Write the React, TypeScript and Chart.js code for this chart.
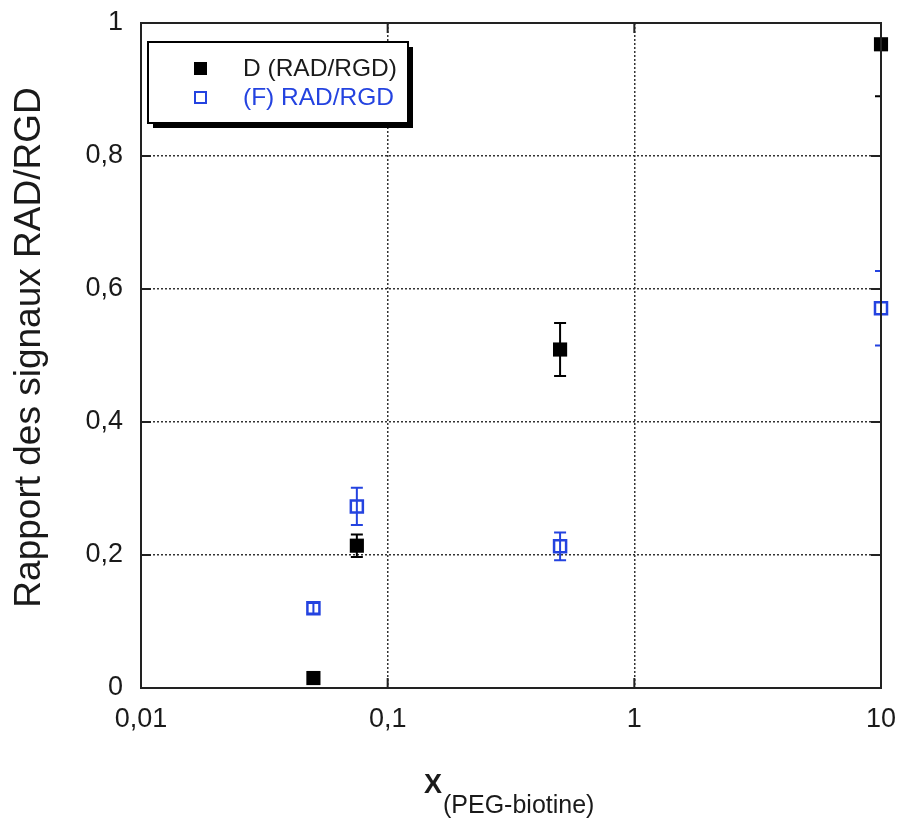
import { useEffect, useRef } from 'react';
import { Chart, registerables } from 'chart.js';

Chart.register(...registerables);

const xValues = [0.05, 0.075, 0.5, 10];
const seriesD = [0.015, 0.214, 0.509, 0.968];
const errD = [0, 0.017, 0.04, 0.078];
const seriesF = [0.12, 0.273, 0.213, 0.571];
const errF = [0.008, 0.028, 0.021, 0.056];
const xTicks = [0.01, 0.1, 1, 10];
const yTicks = [0, 0.2, 0.4, 0.6, 0.8, 1];
const labelD = 'D (RAD/RGD)';
const labelF = '(F) RAD/RGD';
const yTitle = 'Rapport des signaux RAD/RGD';
const xTitleMain = 'X';
const xTitleSub = '(PEG-biotine)';

const FONT = "'Liberation Sans', Arial, sans-serif";
const BLUE = '#2443e0';
const TEXT = '#1a1a1a';

const fmt = (v: number) => String(v).replace('.', ',');

const customPlugin = {
  id: 'customDraw',
  beforeDatasetsDraw(chart: any) {
    const { ctx, chartArea: a, scales } = chart;
    const x = scales.x;
    const y = scales.y;
    ctx.save();
    ctx.beginPath();
    ctx.rect(a.left, a.top, a.right - a.left, a.bottom - a.top);
    ctx.clip();
    const drawErr = (vals: number[], errs: number[], color: string) => {
      ctx.strokeStyle = color;
      ctx.lineWidth = 2;
      vals.forEach((v, i) => {
        const e = errs[i];
        if (!e) return;
        const px = x.getPixelForValue(xValues[i]);
        const top = y.getPixelForValue(v + e);
        const bot = y.getPixelForValue(v - e);
        ctx.beginPath();
        ctx.moveTo(px, top);
        ctx.lineTo(px, bot);
        ctx.moveTo(px - 6, top);
        ctx.lineTo(px + 6, top);
        ctx.moveTo(px - 6, bot);
        ctx.lineTo(px + 6, bot);
        ctx.stroke();
      });
    };
    drawErr(seriesD, errD, '#000');
    drawErr(seriesF, errF, BLUE);
    ctx.restore();
  },
  afterDraw(chart: any) {
    const { ctx, chartArea: a, scales } = chart;
    const x = scales.x;
    const y = scales.y;
    ctx.save();
    // inside ticks
    ctx.strokeStyle = '#222';
    ctx.lineWidth = 2;
    ctx.beginPath();
    yTicks.slice(1, -1).forEach((v) => {
      const py = y.getPixelForValue(v);
      ctx.moveTo(a.left, py);
      ctx.lineTo(a.left + 10, py);
      ctx.moveTo(a.right, py);
      ctx.lineTo(a.right - 10, py);
    });
    xTicks.slice(1, -1).forEach((v) => {
      const px = x.getPixelForValue(v);
      ctx.moveTo(px, a.bottom);
      ctx.lineTo(px, a.bottom - 10);
      ctx.moveTo(px, a.top);
      ctx.lineTo(px, a.top + 10);
    });
    ctx.stroke();
    // frame
    ctx.strokeRect(a.left, a.top, a.right - a.left, a.bottom - a.top);

    // legend
    const lx = a.left + 7;
    const ly = a.top + 19;
    const lw = 260;
    const lh = 81;
    ctx.fillStyle = '#000';
    ctx.fillRect(lx + 5, ly + 5, lw, lh);
    ctx.fillStyle = '#fff';
    ctx.fillRect(lx, ly, lw, lh);
    ctx.strokeStyle = '#000';
    ctx.lineWidth = 2;
    ctx.strokeRect(lx, ly, lw, lh);
    ctx.fillStyle = '#000';
    ctx.fillRect(lx + 46, ly + 20, 13, 13);
    ctx.strokeStyle = BLUE;
    ctx.lineWidth = 2;
    ctx.strokeRect(lx + 47, ly + 50, 11, 11);
    ctx.font = `24.5px ${FONT}`;
    ctx.textBaseline = 'middle';
    ctx.textAlign = 'left';
    ctx.fillStyle = TEXT;
    ctx.fillText(labelD, lx + 95, ly + 27);
    ctx.fillStyle = BLUE;
    ctx.fillText(labelF, lx + 95, ly + 56);

    // y title
    ctx.save();
    ctx.translate(30, (a.top + a.bottom) / 2 - 8);
    ctx.rotate(-Math.PI / 2);
    ctx.font = `37px ${FONT}`;
    ctx.fillStyle = TEXT;
    ctx.textAlign = 'center';
    ctx.textBaseline = 'middle';
    ctx.fillText(yTitle, 0, 0);
    ctx.restore();

    // x title
    ctx.fillStyle = TEXT;
    ctx.textAlign = 'left';
    ctx.textBaseline = 'alphabetic';
    ctx.font = `bold 27px ${FONT}`;
    ctx.fillText(xTitleMain, 424, 793);
    ctx.font = `25px ${FONT}`;
    ctx.fillText(xTitleSub, 443, 813);
    ctx.restore();
  },
};

const zeroPad = (s: any) => {
  s.paddingTop = 0;
  s.paddingBottom = 0;
  s.paddingLeft = 0;
  s.paddingRight = 0;
};

export default function App() {
  const ref = useRef<HTMLCanvasElement | null>(null);
  useEffect(() => {
    document.body.style.margin = '0';
    const canvas = ref.current;
    if (!canvas) return;
    const gridColor = (edgeVals: number[]) => (c: any) =>
      c.tick && edgeVals.includes(c.tick.value) ? 'rgba(0,0,0,0)' : '#333';
    const chart = new Chart(canvas, {
      type: 'scatter',
      data: {
        datasets: [
          {
            label: labelD,
            data: xValues.map((v, i) => ({ x: v, y: seriesD[i] })),
            pointStyle: 'rect',
            pointRadius: 10,
            pointHoverRadius: 10,
            backgroundColor: '#000',
            borderColor: '#000',
            borderWidth: 0,
            clip: false as any,
          },
          {
            label: labelF,
            data: xValues.map((v, i) => ({ x: v, y: seriesF[i] })),
            pointStyle: 'rect',
            pointRadius: 8.5,
            pointHoverRadius: 8.5,
            backgroundColor: 'rgba(0,0,0,0)',
            borderColor: BLUE,
            borderWidth: 2.5,
            clip: false as any,
          },
        ],
      },
      options: {
        animation: false,
        responsive: false,
        devicePixelRatio: 1,
        layout: { padding: { left: 0, top: 23, right: 17, bottom: 0 } },
        plugins: { legend: { display: false }, tooltip: { enabled: false } },
        scales: {
          x: {
            type: 'logarithmic',
            min: 0.01,
            max: 10,
            afterBuildTicks: (s: any) => {
              s.ticks = xTicks.map((v) => ({ value: v }));
            },
            afterFit: (s: any) => {
              s.height = 132;
              zeroPad(s);
            },
            grid: { color: gridColor([0.01, 10]), lineWidth: 1.5, drawTicks: false },
            border: { display: false, dash: [2, 2] },
            ticks: {
              color: TEXT,
              font: { family: FONT, size: 27 },
              padding: 15,
              maxRotation: 0,
              autoSkip: false,
              callback: (v: any) => fmt(Number(v)),
            },
          },
          y: {
            type: 'linear',
            min: 0,
            max: 1,
            afterBuildTicks: (s: any) => {
              s.ticks = yTicks.map((v) => ({ value: v }));
            },
            afterFit: (s: any) => {
              s.width = 141;
              zeroPad(s);
            },
            grid: { color: gridColor([0, 1]), lineWidth: 1.5, drawTicks: false },
            border: { display: false, dash: [2, 2] },
            ticks: {
              color: TEXT,
              font: { family: FONT, size: 27 },
              padding: 18,
              callback: (v: any) => fmt(Number(v)),
            },
          },
        },
      },
      plugins: [customPlugin],
    });
    return () => chart.destroy();
  }, []);
  return (
    <div style={{ width: 898, height: 820, background: '#fff' }}>
      <canvas ref={ref} width={898} height={820} style={{ display: 'block' }} />
    </div>
  );
}
